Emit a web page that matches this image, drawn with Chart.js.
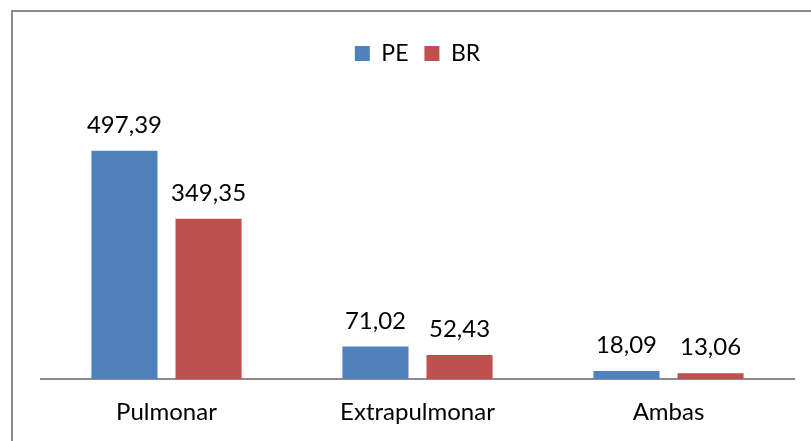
<!DOCTYPE html>
<html>
<head>
<meta charset="utf-8">
<script src="https://cdn.jsdelivr.net/npm/chart.js@4/dist/chart.umd.min.js"></script>
<style>
  html, body { margin: 0; padding: 0; background: #fff; }
  #wrap { position: relative; width: 811px; height: 441px; overflow: hidden; }
  #frame {
    position: absolute; left: 11px; top: 10px; width: 900px; height: 500px;
    border-left: 2px solid #8c8c8c; border-top: 2px solid #8c8c8c;
  }
  canvas { position: absolute; left: 0; top: 0; }
</style>
</head>
<body>
<div id="wrap">
  <div id="frame"></div>
  <canvas id="chart" width="811" height="441"></canvas>
</div>
<script>
  const categories = ['Pulmonar', 'Extrapulmonar', 'Ambas'];
  const peValues = [497.39, 71.02, 18.09];
  const brValues = [349.35, 52.43, 13.06];
  const seriesNames = ['PE', 'BR'];

  const fontFamily = 'Lato, "Open Sans", sans-serif';

  function fmt(v) {
    return v.toFixed(2).replace('.', ',');
  }

  const valueLabels = {
    id: 'valueLabels',
    afterDatasetsDraw(chart) {
      const ctx = chart.ctx;
      ctx.save();
      ctx.fillStyle = '#000';
      ctx.font = '24px ' + fontFamily;
      ctx.textAlign = 'center';
      ctx.textBaseline = 'alphabetic';
      chart.data.datasets.forEach(function (ds, i) {
        chart.getDatasetMeta(i).data.forEach(function (bar, j) {
          ctx.fillText(fmt(ds.data[j]), bar.x, bar.y - 18);
        });
      });
      ctx.restore();
    },
  };

  new Chart(document.getElementById('chart'), {
    type: 'bar',
    data: {
      labels: categories,
      datasets: [
        { label: seriesNames[0], data: peValues, backgroundColor: '#4f81bd' },
        { label: seriesNames[1], data: brValues, backgroundColor: '#c0504d' },
      ],
    },
    options: {
      responsive: false,
      animation: false,
      devicePixelRatio: 1,
      categoryPercentage: 0.67,
      barPercentage: 0.786,
      layout: { padding: { left: 41, right: 17, top: 26, bottom: 3 } },
      plugins: {
        legend: {
          position: 'top',
          labels: {
            boxWidth: 15,
            boxHeight: 15,
            padding: 16,
            color: '#000',
            font: { family: fontFamily, size: 23 },
          },
        },
        tooltip: { enabled: false },
      },
      scales: {
        x: {
          grid: { display: false },
          border: { display: true, color: '#8c8c8c', width: 2 },
          ticks: { color: '#000', padding: 11, font: { family: fontFamily, size: 24 } },
        },
        y: {
          display: false,
          min: 0,
          max: 662,
        },
      },
    },
    plugins: [valueLabels],
  });
</script>
</body>
</html>
